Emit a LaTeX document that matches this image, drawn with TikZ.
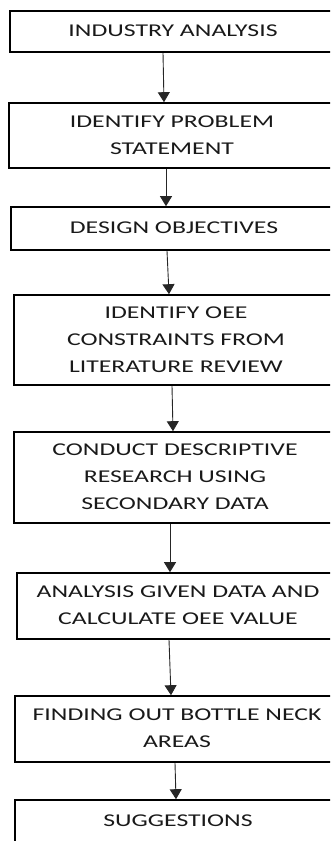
\documentclass[tikz,border=0pt]{standalone}
\usepackage{fontspec}
\setmainfont{Carlito}
\usetikzlibrary{arrows.meta}
\newcommand{\widetext}[1]{\scalebox{1.43}[1]{\begin{tabular}{@{}c@{}}#1\end{tabular}}}

\begin{document}
\begin{tikzpicture}[x=1pt,y=-1pt,
  stepbox/.style={draw,line width=1.6pt,rectangle,align=center,inner sep=0pt,
    text=black!90,font=\fontsize{18}{27}\selectfont},
  arr/.style={-{Triangle[width=12pt,length=10pt]},line width=0.9pt,draw=black!85}]
\clip (0,0) rectangle (330,841);
\node[stepbox,minimum width=326pt,minimum height=41pt] (ia) at (173,31.5) {\widetext{INDUSTRY ANALYSIS}};
\node[stepbox,minimum width=326pt,minimum height=65pt] (ps) at (172,135.5) {\widetext{IDENTIFY PROBLEM\\STATEMENT}};
\node[stepbox,minimum width=326pt,minimum height=43pt] (do) at (174,228.5) {\widetext{DESIGN OBJECTIVES}};
\node[stepbox,minimum width=324pt,minimum height=90pt] (oee) at (176,340) {\widetext{IDENTIFY OEE\\CONSTRAINTS FROM\\LITERATURE REVIEW}};
\node[stepbox,minimum width=322pt,minimum height=91pt] (dr) at (175,477.5) {\widetext{CONDUCT DESCRIPTIVE\\RESEARCH USING\\SECONDARY DATA}};
\node[stepbox,minimum width=322pt,minimum height=66pt] (cv) at (178,606) {\widetext{ANALYSIS GIVEN DATA AND\\CALCULATE OEE VALUE}};
\node[stepbox,minimum width=324pt,minimum height=66pt] (bn) at (177,729) {\widetext{FINDING OUT BOTTLE NECK\\AREAS}};
\node[stepbox,minimum width=326pt,minimum height=42pt] (sg) at (178,821) {\widetext{SUGGESTIONS}};
\draw[arr] ([xshift=-10pt]ia.south) -- ([xshift=-8pt]ps.north);
\draw[arr] ([xshift=-6pt]ps.south) -- ([xshift=-8pt]do.north);
\draw[arr] ([xshift=-7pt]do.south) -- ([xshift=-7pt]oee.north);
\draw[arr] ([xshift=-4pt]oee.south) -- ([xshift=-2pt]dr.north);
\draw[arr] ([xshift=-5pt]dr.south) -- ([xshift=-8pt]cv.north);
\draw[arr] ([xshift=-9pt]cv.south) -- ([xshift=-6pt]bn.north);
\draw[arr] ([xshift=-2pt]bn.south) -- ([xshift=-2pt]sg.north);
\end{tikzpicture}
\end{document}
